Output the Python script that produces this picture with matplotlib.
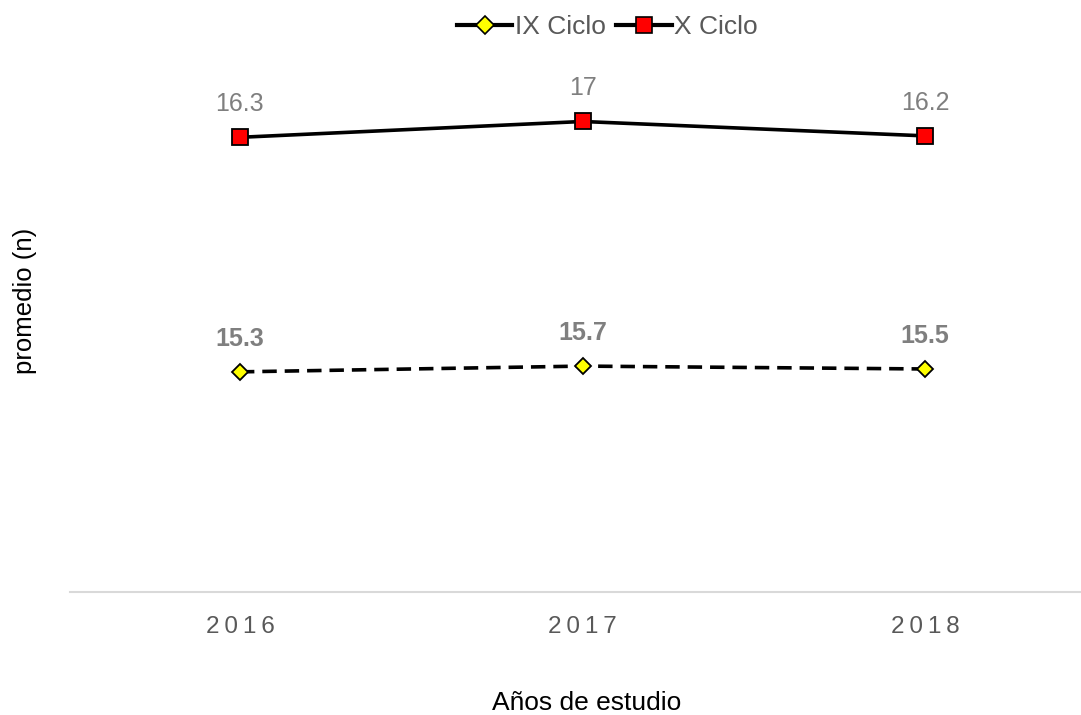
import numpy as np
import matplotlib.pyplot as plt
from matplotlib.lines import Line2D

plt.rcParams['font.family'] = ['Liberation Sans', 'DejaVu Sans']

anios = ['2016', '2017', '2018']
ix_ciclo = [15.3, 15.7, 15.5]
x_ciclo = [16.3, 17.0, 16.2]
x_etiquetas = ['16.3', '17', '16.2']
ix_etiquetas = ['15.3', '15.7', '15.5']

# grafico de lineas apiladas (como en Excel)
x = np.arange(len(anios))
ix = np.array(ix_ciclo)
acum = ix + np.array(x_ciclo)

fig = plt.figure(figsize=(10.81, 7.15), dpi=100)
ax = fig.add_axes([70 / 1081, 123 / 715, 1 - 70 / 1081, 518 / 715])

ax.plot(x, ix, color='black', lw=2.6, ls=(0, (4, 2.2)), marker='D', ms=8.5,
        mfc='#ffff00', mec='black', mew=1.3, zorder=3)
ax.plot(x, acum, color='black', lw=2.6, marker='s', ms=11.5,
        mfc='#ff0000', mec='black', mew=1.3, zorder=3)

for xi, yi, t in zip(x, ix, ix_etiquetas):
    ax.annotate(t, (xi, yi), xytext=(0, 24), textcoords='offset points',
                ha='center', va='center', fontsize=18, fontweight='bold', color='#7f7f7f')
for xi, yi, t in zip(x, acum, x_etiquetas):
    ax.annotate(t, (xi, yi), xytext=(0, 24), textcoords='offset points',
                ha='center', va='center', fontsize=18, color='#7f7f7f')

ax.set_xlim(-0.496, 2.455)
ax.set_ylim(0, 36)
ax.set_xticks(x)
# espaciado entre letras como en el original
ax.set_xticklabels(['\u2009'.join(a) for a in anios], fontsize=17.5, color='#595959')
ax.set_yticks([])
ax.tick_params(axis='x', length=0, pad=17)
for s in ['top', 'right', 'left']:
    ax.spines[s].set_visible(False)
ax.spines['bottom'].set_color('#d9d9d9')
ax.spines['bottom'].set_linewidth(1.5)

fig.text(587 / 1081, 1 - 703 / 715, 'Años de estudio', ha='center', va='center',
         fontsize=19, color='black')
fig.text(25 / 1081, 1 - 301 / 715, 'promedio (n)', ha='center', va='center',
         rotation=90, fontsize=18.5, color='black')

handles = [
    Line2D([], [], color='black', lw=3, marker='D', ms=9, mfc='#ffff00', mec='black', mew=1.2),
    Line2D([], [], color='black', lw=3, marker='s', ms=12, mfc='#ff0000', mec='black', mew=1.2),
]
fig.legend(handles, ['IX Ciclo', 'X Ciclo'], loc='center', bbox_to_anchor=(0.562, 1 - 27 / 715),
           ncol=2, frameon=False, fontsize=19, labelcolor='#595959',
           handlelength=2.1, handletextpad=0.1, columnspacing=0.4)

fig.savefig('out.png', dpi=100)
